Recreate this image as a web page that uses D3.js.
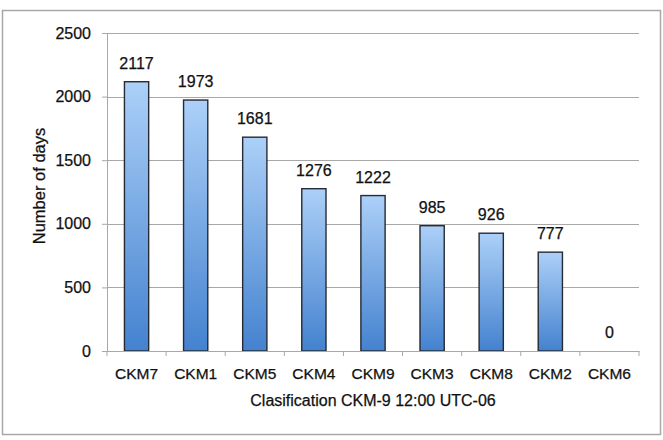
<!DOCTYPE html>
<html>
<head>
<meta charset="utf-8">
<script src="https://cdn.jsdelivr.net/npm/d3@7"></script>
<style>
  body { margin: 0; background: #fff; }
  text { font-family: "Liberation Sans", Arial, Helvetica, sans-serif; fill: #111; stroke: #111; stroke-width: 0.25px; }
</style>
</head>
<body>
<div id="chart"></div>
<script>
const categories = ["CKM7", "CKM1", "CKM5", "CKM4", "CKM9", "CKM3", "CKM8", "CKM2", "CKM6"];
const days = [2117, 1973, 1681, 1276, 1222, 985, 926, 777, 0];
const yTicks = [0, 500, 1000, 1500, 2000, 2500];

const W = 663, H = 440;
const margin = { top: 33, right: 24, bottom: 89, left: 107 };
const width = W - margin.left - margin.right;
const height = H - margin.top - margin.bottom;

const svg = d3.select("#chart").append("svg")
  .attr("width", W)
  .attr("height", H);

// outer frame
svg.append("rect")
  .attr("x", 2.5).attr("y", 10.5)
  .attr("width", 658).attr("height", 424)
  .attr("fill", "none")
  .attr("stroke", "#a8a8a8")
  .attr("stroke-width", 1.5);

const defs = svg.append("defs");
const grad = defs.append("linearGradient")
  .attr("id", "barGrad")
  .attr("x1", 0).attr("y1", 0).attr("x2", 0).attr("y2", 1);
grad.append("stop").attr("offset", "0%").attr("stop-color", "#acd0f8");
grad.append("stop").attr("offset", "100%").attr("stop-color", "#4482cf");

const chart = svg.append("g")
  .attr("transform", `translate(${margin.left},${margin.top})`);

const x = d3.scaleBand()
  .domain(categories)
  .range([0, width])
  .paddingInner(0.59)
  .paddingOuter(0.295);

const xTickScale = d3.scaleBand().domain(categories).range([0, width]);

const y = d3.scaleLinear()
  .domain([0, 2500])
  .range([height, 0]);

// gridlines
chart.append("g")
  .selectAll("line")
  .data(yTicks.filter(d => d > 0))
  .enter()
  .append("line")
  .attr("x1", 0).attr("x2", width)
  .attr("y1", d => Math.round(y(d)) + 0.5)
  .attr("y2", d => Math.round(y(d)) + 0.5)
  .attr("stroke", "#a8a8a8")
  .attr("stroke-width", 1);

// bars
chart.selectAll("rect.bar")
  .data(categories)
  .enter()
  .append("rect")
  .attr("class", "bar")
  .attr("x", (d) => x(d))
  .attr("y", (d, i) => y(days[i]))
  .attr("width", x.bandwidth())
  .attr("height", (d, i) => height - y(days[i]))
  .attr("fill", "url(#barGrad)")
  .attr("stroke", "#262a33")
  .attr("stroke-width", 1.4)
  .style("display", (d, i) => days[i] > 0 ? null : "none");

// value labels
chart.selectAll("text.val")
  .data(categories)
  .enter()
  .append("text")
  .attr("class", "val")
  .attr("x", d => x(d) + x.bandwidth() / 2)
  .attr("y", (d, i) => y(days[i]) - 13)
  .attr("text-anchor", "middle")
  .style("font-size", "16px")
  .text((d, i) => days[i]);

// y axis
const yAxis = chart.append("g")
  .call(d3.axisLeft(y).tickValues(yTicks).tickFormat(d3.format("d")).tickSize(5).tickPadding(11));
yAxis.select(".domain").attr("stroke", "#a8a8a8");
yAxis.selectAll(".tick line").attr("stroke", "#a8a8a8");
yAxis.selectAll(".tick text")
  .style("font-size", "16px")
  .style("font-family", "'Liberation Sans', Arial, sans-serif");

// x axis
const xAxis = chart.append("g")
  .attr("transform", `translate(0,${height})`)
  .call(d3.axisBottom(xTickScale).tickSize(0).tickPadding(17));
xAxis.select(".domain").attr("stroke", "#a8a8a8");
xAxis.selectAll(".tick text")
  .style("font-size", "15.5px")
  .style("font-family", "'Liberation Sans', Arial, sans-serif");

// separators between categories
chart.append("g")
  .selectAll("line")
  .data(d3.range(categories.length + 1))
  .enter()
  .append("line")
  .attr("x1", i => i * xTickScale.step())
  .attr("x2", i => i * xTickScale.step())
  .attr("y1", height)
  .attr("y2", height + 5)
  .attr("stroke", "#a8a8a8");

// X Axis Label
svg.append("text")
  .attr("x", margin.left + width / 2)
  .attr("y", 406)
  .attr("text-anchor", "middle")
  .style("font-size", "16px")
  .text("Clasification CKM-9 12:00 UTC-06");

// Y Axis Label
svg.append("text")
  .attr("transform", "rotate(-90)")
  .attr("x", -186)
  .attr("y", 45)
  .attr("text-anchor", "middle")
  .style("font-size", "16.5px")
  .text("Number of days");
</script>
</body>
</html>
